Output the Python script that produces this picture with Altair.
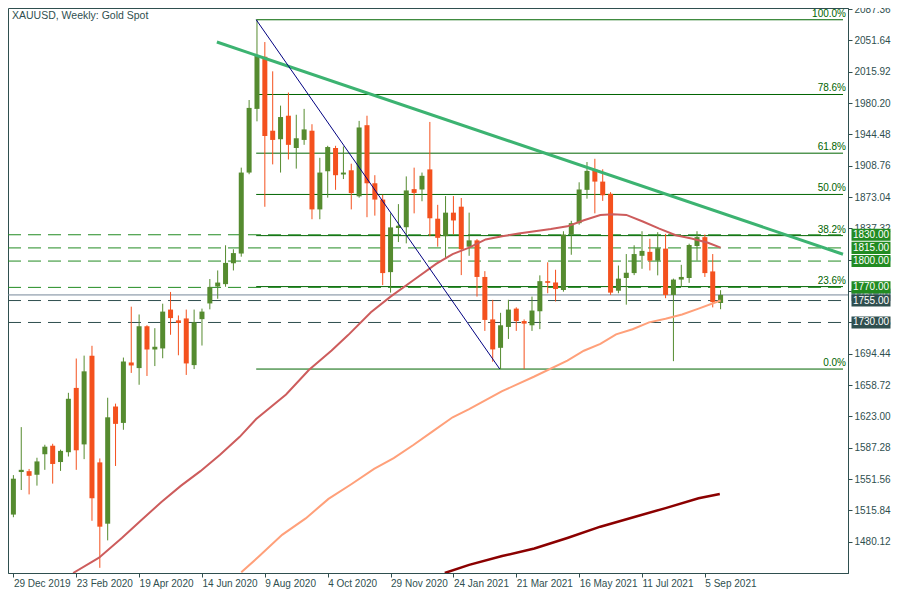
import altair as alt
import pandas as pd

W, H = 840, 565
GREEN = "#558B2F"
RED = "#F4511E"
AX = "#2F4F4F"
FONT = "Liberation Sans"
FS = 10

TITLE = "XAUUSD, Weekly:  Gold Spot"

# ---- weekly candles (week index 0 = 29 Dec 2019) ----
weeks = list(range(91))
opens = [1511.0, 1559.5, 1560.5, 1556.4, 1579.8, 1589.5, 1570.9, 1582.1, 1655.4, 1591.0,
         1692.2, 1570.5, 1500.6, 1634.2, 1615.5, 1684.4, 1678.0, 1725.7, 1699.2, 1700.4,
         1744.7, 1732.4, 1734.6, 1681.4, 1733.8, 1751.7, 1771.0, 1773.7, 1797.5, 1808.6,
         1900.9, 1973.5, 2033.0, 1948.6, 1938.9, 1965.7, 1928.9, 1938.1, 1948.6, 1858.9,
         1902.4, 1928.9, 1898.7, 1903.5, 1873.8, 1954.9, 1888.7, 1870.1, 1787.4, 1837.7,
         1838.6, 1882.0, 1881.6, 1904.5, 1848.3, 1828.4, 1855.2, 1862.0, 1816.4, 1823.6,
         1781.9, 1733.5, 1701.1, 1724.9, 1745.8, 1731.6, 1726.8, 1742.8, 1777.1, 1775.6,
         1767.0, 1830.3, 1843.2, 1881.2, 1904.6, 1890.6, 1876.7, 1766.2, 1780.7, 1786.3,
         1806.0, 1810.5, 1800.5, 1814.2, 1761.4, 1778.9, 1780.7, 1817.2, 1827.3, 1788.2,
         1752.2]
highs = [1556.0, 1610.7, 1563.0, 1575.8, 1590.6, 1591.7, 1585.0, 1649.8, 1688.9, 1692.2,
         1703.4, 1575.0, 1644.2, 1637.5, 1690.0, 1748.0, 1739.1, 1726.8, 1723.5, 1751.4,
         1764.8, 1738.0, 1744.7, 1744.7, 1745.8, 1779.5, 1789.3, 1818.0, 1813.5, 1906.5,
         1983.6, 2075.1, 2049.7, 2016.3, 1977.2, 1992.1, 1966.8, 1973.5, 1956.0, 1917.7,
         1931.4, 1931.4, 1930.7, 1911.0, 1959.8, 1965.7, 1897.9, 1875.6, 1854.4, 1864.9,
         1896.5, 1906.5, 1900.9, 1958.6, 1864.1, 1874.1, 1874.1, 1871.9, 1855.2, 1825.0,
         1788.5, 1755.8, 1741.0, 1755.8, 1747.3, 1733.5, 1759.5, 1783.7, 1798.6, 1790.1,
         1834.0, 1845.9, 1889.8, 1912.9, 1916.6, 1904.6, 1878.6, 1794.9, 1808.0, 1818.0,
         1834.0, 1825.4, 1832.9, 1831.0, 1780.0, 1795.7, 1819.8, 1834.0, 1830.3, 1808.0,
         1766.8]
lows = [1508.0, 1539.0, 1534.0, 1544.0, 1562.0, 1546.3, 1560.8, 1577.2, 1562.0, 1574.2,
        1503.9, 1450.3, 1481.6, 1566.4, 1607.7, 1672.5, 1659.0, 1669.0, 1680.3, 1689.2,
        1716.0, 1692.6, 1670.2, 1676.9, 1703.7, 1745.0, 1757.0, 1770.7, 1789.3, 1805.0,
        1899.0, 1959.3, 1861.9, 1910.2, 1900.9, 1915.8, 1905.4, 1932.5, 1847.7, 1847.7,
        1872.3, 1881.2, 1893.5, 1858.9, 1872.3, 1850.0, 1851.8, 1772.6, 1764.0, 1821.7,
        1820.2, 1854.4, 1868.2, 1828.4, 1816.4, 1803.5, 1830.3, 1784.0, 1806.0, 1759.5,
        1720.4, 1685.2, 1676.9, 1711.2, 1720.4, 1676.9, 1720.4, 1722.4, 1763.3, 1753.9,
        1765.1, 1807.2, 1841.5, 1871.1, 1854.4, 1868.6, 1761.4, 1763.3, 1750.3, 1784.0,
        1791.2, 1789.3, 1783.7, 1757.7, 1685.9, 1770.7, 1775.2, 1800.5, 1781.9, 1747.2,
        1745.1]
closes = [1551.9, 1562.0, 1555.2, 1571.6, 1588.4, 1568.7, 1583.6, 1643.0, 1584.3, 1674.3,
          1529.6, 1497.2, 1621.9, 1614.4, 1685.5, 1681.0, 1725.7, 1699.2, 1702.3, 1742.4,
          1735.0, 1729.4, 1683.3, 1730.2, 1742.4, 1770.4, 1775.5, 1797.9, 1809.1, 1900.9,
          1974.6, 2034.9, 1942.6, 1938.1, 1964.2, 1932.5, 1940.0, 1950.1, 1858.9, 1900.9,
          1930.0, 1897.9, 1900.9, 1877.5, 1952.3, 1888.7, 1870.1, 1786.3, 1838.4, 1840.3,
          1880.5, 1877.7, 1897.2, 1848.8, 1826.5, 1855.2, 1846.3, 1813.5, 1823.6, 1781.9,
          1732.9, 1699.3, 1726.8, 1744.7, 1731.6, 1728.7, 1743.6, 1777.1, 1775.2, 1768.1,
          1830.3, 1843.2, 1881.6, 1902.8, 1890.6, 1875.0, 1764.0, 1780.0, 1786.7, 1808.0,
          1811.6, 1800.5, 1814.6, 1761.4, 1778.9, 1781.9, 1818.3, 1827.3, 1786.3, 1753.2,
          1761.4]

# ---- moving averages (week, price) ----
ma1_w = [7.6, 10.9, 13.8, 16.3, 18.8, 21.3, 23.8, 26.3, 28.8, 30.9, 34.7, 37.6, 40.5, 42.6,
         45.5, 48.0, 50.9, 53.8, 55.9, 58.0, 60.1, 62.2, 64.3, 68.4, 70.5, 72.6, 74.7, 76.3,
         78.0, 80.1, 82.2, 84.3, 86.3, 88.4, 90.0]
ma1_p = [1444.4, 1461.9, 1484.2, 1504.7, 1525.1, 1543.7, 1560.5, 1579.1, 1599.6, 1620.0,
         1647.9, 1675.8, 1698.1, 1715.6, 1741.7, 1759.5, 1778.2, 1796.8, 1808.0, 1815.3,
         1824.7, 1828.4, 1831.4, 1836.5, 1839.6, 1846.6, 1852.6, 1853.5, 1852.6, 1845.1,
         1837.0, 1829.5, 1825.8, 1820.9, 1815.3]
ma2_w = [29.0, 31.3, 34.2, 37.2, 40.1, 43.0, 45.9, 48.4, 50.9, 53.4, 55.9, 58.0, 62.2, 66.3,
         70.5, 72.6, 74.7, 76.7, 78.8, 80.9, 83.0, 85.1, 87.2, 90.0]
ma2_p = [1445.2, 1463.7, 1487.9, 1506.6, 1528.9, 1545.6, 1563.0, 1575.3, 1590.3, 1606.2,
         1621.9, 1631.1, 1651.7, 1668.4, 1686.6, 1697.8, 1705.6, 1716.4, 1722.3, 1730.1,
         1734.3, 1739.1, 1745.8, 1755.1]
ma3_w = [54.9, 58.0, 62.2, 66.3, 70.5, 74.7, 78.8, 83.0, 87.2, 89.9]
ma3_p = [1444.4, 1453.7, 1463.7, 1472.3, 1484.3, 1497.2, 1507.7, 1518.4, 1529.6, 1534.5]

# ---- drawn objects ----
trend_w = [25.9, 105.58]
trend_p = [2049.7, 1807.8]
fibline_w = [30.9, 61.9]
fibline_p = [2075.1, 1676.9]
fib_levels = [2075.1, 1989.9, 1923.0, 1875.95, 1829.0, 1770.9, 1676.9]
fib_labels = ["100.0%", "78.6%", "61.8%", "50.0%", "38.2%", "23.6%", "0.0%"]
fib_start = 30.9
fib_end = 105.58
green_levels = [1830.0, 1815.0, 1800.0, 1770.0]
dark_levels = [1755.0, 1730.0]
current_price = [1761.4]

# ---- axes ----
x_tick_weeks = [0, 8, 16, 24, 32, 40, 48, 56, 64, 72, 80, 88]
x_tick_labels = ["29 Dec 2019", "23 Feb 2020", "19 Apr 2020", "14 Jun 2020", "9 Aug 2020",
                 "4 Oct 2020", "29 Nov 2020", "24 Jan 2021", "21 Mar 2021", "16 May 2021",
                 "11 Jul 2021", "5 Sep 2021"]
y_ticks = [1480.12, 1515.84, 1551.56, 1587.28, 1623.00, 1658.72, 1694.44, 1730.16, 1765.88,
           1801.60, 1837.32, 1873.04, 1908.76, 1944.48, 1980.20, 2015.92, 2051.64, 2087.36]

xs = alt.Scale(domain=[-0.05, 105.58], nice=False, zero=False)
ys = alt.Scale(domain=[1444.4, 2088.5], nice=False, zero=False)
label_expr = "[" + ",".join("'%s'" % s for s in x_tick_labels) + "][round(datum.value/8)]"
x_axis = alt.Axis(values=x_tick_weeks, labelExpr=label_expr, title=None, grid=False,
                  orient="bottom", tickSize=4, labelAlign="left", labelBaseline="top",
                  labelPadding=1, labelFlush=False, labelOverlap=False,
                  domainColor=AX, tickColor=AX, labelColor=AX, labelFont=FONT, labelFontSize=FS)
y_axis = alt.Axis(values=y_ticks, format=".2f", title=None, grid=False, orient="right",
                  tickSize=4, labelPadding=2, labelBaseline="middle", labelFlush=False,
                  labelOverlap=False, domainColor=AX, tickColor=AX, labelColor=AX,
                  labelFont=FONT, labelFontSize=FS)


def X(f):
    return alt.X(f, type="quantitative", scale=xs, axis=x_axis)


def Y(f):
    return alt.Y(f, type="quantitative", scale=ys, axis=y_axis)


df = pd.DataFrame({"w": weeks, "o": opens, "h": highs, "l": lows, "c": closes})
ccolor = alt.condition("datum.c >= datum.o", alt.value(GREEN), alt.value(RED))

hl_green = alt.Chart(pd.DataFrame({"p": green_levels})).mark_rule(
    color="#228B22", strokeWidth=1, strokeDash=[13, 7]).encode(
    y=Y("p"), x=alt.value(0), x2=alt.value(W))
hl_dark = alt.Chart(pd.DataFrame({"p": dark_levels})).mark_rule(
    color=AX, strokeWidth=1, strokeDash=[13, 7]).encode(
    y=Y("p"), x=alt.value(0), x2=alt.value(W))
hl_cur = alt.Chart(pd.DataFrame({"p": current_price})).mark_rule(
    color="#778899", strokeWidth=1).encode(y=Y("p"), x=alt.value(0), x2=alt.value(W))

fib_df = pd.DataFrame({"p": fib_levels, "lab": fib_labels,
                       "x0": [fib_start] * len(fib_levels), "x1": [fib_end] * len(fib_levels)})
fib_rules = alt.Chart(fib_df).mark_rule(color="#006400", strokeWidth=1).encode(
    x=X("x0"), x2="x1", y=Y("p"))
fib_text = alt.Chart(fib_df).mark_text(
    align="right", baseline="alphabetic", dy=-3, color="#006400", font=FONT, fontSize=FS
).encode(x=alt.value(W - 2), y=Y("p"), text="lab")

wicks = alt.Chart(df).mark_rule(strokeWidth=1).encode(x=X("w"), y=Y("l"), y2="h", color=ccolor)
bodies = alt.Chart(df).mark_bar(size=5).encode(x=X("w"), y=Y("o"), y2="c", color=ccolor)


def line(ws, ps, color, width):
    return alt.Chart(pd.DataFrame({"w": ws, "p": ps})).mark_line(
        color=color, strokeWidth=width, clip=True).encode(x=X("w"), y=Y("p"))


ma1 = line(ma1_w, ma1_p, "#CD5C5C", 2)
ma2 = line(ma2_w, ma2_p, "#FFA07A", 2)
ma3 = line(ma3_w, ma3_p, "#8B0000", 2.5)
trend = line(trend_w, trend_p, "#3CB371", 3)
fibl = line(fibline_w, fibline_p, "#000080", 1)

title = alt.Chart(pd.DataFrame({"t": [TITLE]})).mark_text(
    align="left", baseline="middle", font=FONT, fontSize=FS + 0.5, color=AX
).encode(x=alt.value(4), y=alt.value(8), text="t")

BOX = "M-1,-0.31L1,-0.31L1,0.31L-1,0.31Z"
BX = W + 23
BOX_SIZE = 39 * 39


def boxes(levels, color):
    d = pd.DataFrame({"p": levels})
    b = alt.Chart(d).mark_point(shape=BOX, size=BOX_SIZE, filled=True, opacity=1, color=color).encode(
        x=alt.value(BX), y=Y("p"))
    t = alt.Chart(d).mark_text(color="white", align="center", baseline="middle",
                               font=FONT, fontSize=FS).encode(
        x=alt.value(BX), y=Y("p"), text=alt.Text("p:Q", format=".2f"))
    return b + t


chart = alt.layer(
    hl_green, hl_dark, hl_cur, fib_rules, fib_text,
    wicks, bodies, ma1, ma2, ma3, trend, fibl, title,
    boxes(current_price, "#778899"), boxes(green_levels, "#228B22"), boxes(dark_levels, AX)
).properties(
    width=W, height=H, background="white",
    autosize=alt.AutoSizeParams(type="none"),
    padding={"left": 0, "top": 0, "right": 43, "bottom": 18}
).configure_view(stroke=AX, strokeWidth=1)

chart.save("out.html", embed_options={"renderer": "svg", "actions": False})
